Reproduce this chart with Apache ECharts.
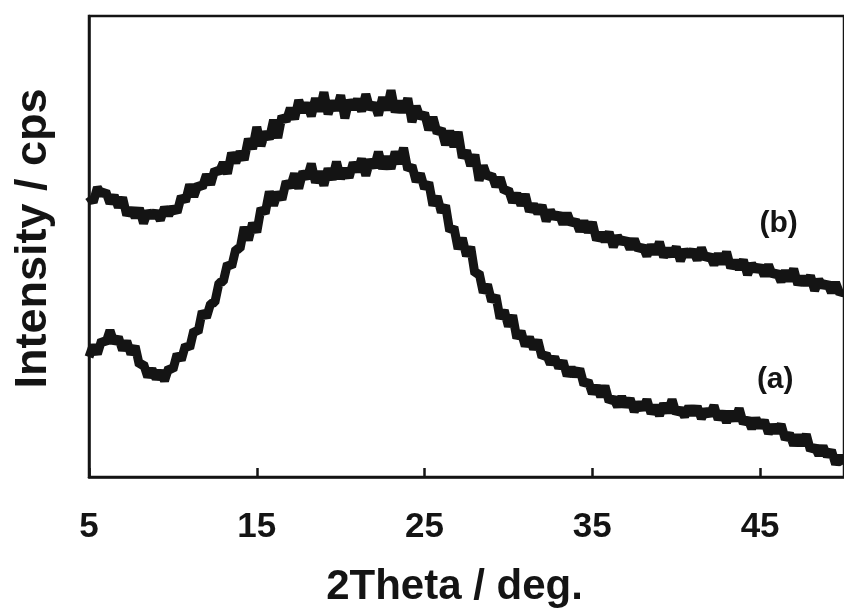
<!DOCTYPE html>
<html><head><meta charset="utf-8">
<script src="https://cdn.jsdelivr.net/npm/echarts@6/dist/echarts.min.js"></script>
<style>html,body{margin:0;padding:0;background:#fff}#c{width:844px;height:613px}</style>
</head><body><div id="c"></div>
<script>
// 2Theta scan positions (deg)
const twoTheta = [
5,5.25,5.5,5.75,6,6.25,6.5,6.75,7,7.25,7.5,7.75,8,8.25,8.5,8.75,
9,9.25,9.5,9.75,10,10.25,10.5,10.75,11,11.25,11.5,11.75,12,12.25,12.5,12.75,
13,13.25,13.5,13.75,14,14.25,14.5,14.75,15,15.25,15.5,15.75,16,16.25,16.5,16.75,
17,17.25,17.5,17.75,18,18.25,18.5,18.75,19,19.25,19.5,19.75,20,20.25,20.5,20.75,
21,21.25,21.5,21.75,22,22.25,22.5,22.75,23,23.25,23.5,23.75,24,24.25,24.5,24.75,
25,25.25,25.5,25.75,26,26.25,26.5,26.75,27,27.25,27.5,27.75,28,28.25,28.5,28.75,
29,29.25,29.5,29.75,30,30.25,30.5,30.75,31,31.25,31.5,31.75,32,32.25,32.5,32.75,
33,33.25,33.5,33.75,34,34.25,34.5,34.75,35,35.25,35.5,35.75,36,36.25,36.5,36.75,
37,37.25,37.5,37.75,38,38.25,38.5,38.75,39,39.25,39.5,39.75,40,40.25,40.5,40.75,
41,41.25,41.5,41.75,42,42.25,42.5,42.75,43,43.25,43.5,43.75,44,44.25,44.5,44.75,
45,45.25,45.5,45.75,46,46.25,46.5,46.75,47,47.25,47.5,47.75,48,48.25,48.5,48.75,
49,49.25,49.5,49.75,50];

// pattern (b), arbitrary intensity units
const intensityB = [
283,277,292,285,288,276,284,272,282,264,271,262,271,256,268,262,
268,259,272,264,272,267,283,278,295,283,295,292,305,295,310,307,
317,306,327,317,328,320,341,331,353,334,348,341,360,342,364,359,
372,361,380,368,377,364,382,369,388,366,379,370,385,362,380,371,
381,369,386,371,377,365,383,370,390,368,379,368,382,358,374,362,
367,350,363,347,351,335,349,333,348,322,329,314,325,299,314,302,
305,293,302,288,290,277,286,274,285,268,275,266,274,258,269,261,
266,255,266,255,259,248,258,247,257,239,246,238,247,232,243,236,
240,230,240,229,233,223,234,225,237,222,230,223,232,218,229,223,
229,219,231,220,224,214,225,215,227,211,218,210,219,204,215,208,
213,203,214,203,207,197,208,198,210,194,202,194,203,188,199,192,
196,186,196,185,188];

// pattern (a), arbitrary intensity units
const intensityA = [
121,133,124,138,135,148,135,141,128,137,124,132,113,114,101,109,
99,107,97,110,108,124,118,133,130,148,146,167,161,175,176,196,
197,215,212,230,230,252,239,256,247,271,266,288,274,287,280,298,
292,306,291,308,301,316,297,308,294,311,300,318,301,311,302,317,
308,321,304,320,312,328,311,323,311,328,316,332,310,314,298,306,
291,297,274,283,267,274,248,252,230,241,223,232,205,206,186,194,
177,183,160,168,152,163,140,147,132,141,129,138,121,124,114,121,
110,117,102,110,102,109,93,97,84,92,81,92,76,80,71,81,
71,79,66,75,68,78,64,72,62,74,65,78,64,69,61,71,
63,71,59,68,62,72,58,66,55,66,57,69,54,59,49,59,
50,57,44,52,45,53,38,44,32,42,32,43,27,31,22,31,
21,27,13,21,13];

const xTickValues = [5, 15, 25, 35, 45];
const curveLabels = ['(b)', '(a)'];
const curveLabelX = [46.1, 45.9];
const curveLabelY = [255, 98];

const FONT = "'Liberation Sans', Arial, Helvetica, sans-serif";
const INK = '#141414';

function zip(xs, ys) { return xs.map((x, i) => [x, ys[i]]); }

function curve(name, ys, li) {
  return {
    name: name, type: 'line', data: zip(twoTheta, ys),
    showSymbol: false, symbol: 'none', silent: true, animation: false,
    lineStyle: { color: INK, width: 9, join: 'bevel' },
    markPoint: {
      silent: true, symbol: 'circle', symbolSize: 1,
      itemStyle: { color: 'rgba(0,0,0,0)' },
      label: { show: true, position: 'inside', formatter: curveLabels[li],
        color: INK, fontFamily: FONT, fontWeight: 'bold', fontSize: 30 },
      data: [{ coord: [curveLabelX[li], curveLabelY[li]] }]
    }
  };
}

const chart = echarts.init(document.getElementById('c'), null, { renderer: 'canvas' });
chart.setOption({
  backgroundColor: '#fff',
  animation: false,
  grid: { left: 89, top: 16, width: 762, height: 465, show: true,
    borderColor: INK, borderWidth: 2.5, backgroundColor: 'transparent' },
  xAxis: {
    type: 'value', min: 5, max: 50,
    axisLine: { show: true, lineStyle: { color: INK, width: 2.5 } },
    axisTick: { show: true, inside: true, length: 9, customValues: xTickValues,
      lineStyle: { color: INK, width: 2.5 } },
    axisLabel: { show: true, customValues: xTickValues, margin: 33,
      color: INK, fontFamily: FONT, fontWeight: 'bold', fontSize: 35 },
    splitLine: { show: false },
    name: '2Theta / deg.', nameLocation: 'middle', nameGap: 89,
    nameTextStyle: { color: INK, fontFamily: FONT, fontWeight: 'bold', fontSize: 42,
      padding: [0, 24, 0, 0] }
  },
  yAxis: {
    type: 'value', min: 0, max: 465,
    axisLine: { show: true, lineStyle: { color: INK, width: 2.5 } },
    axisTick: { show: false }, axisLabel: { show: false }, splitLine: { show: false },
    name: 'Intensity / cps', nameLocation: 'middle', nameRotate: 90, nameGap: 33,
    nameTextStyle: { color: INK, fontFamily: FONT, fontWeight: 'bold', fontSize: 45,
      padding: [0, 0, 0, 16] }
  },
  series: [curve('(b)', intensityB, 0), curve('(a)', intensityA, 1)]
});
</script></body></html>
